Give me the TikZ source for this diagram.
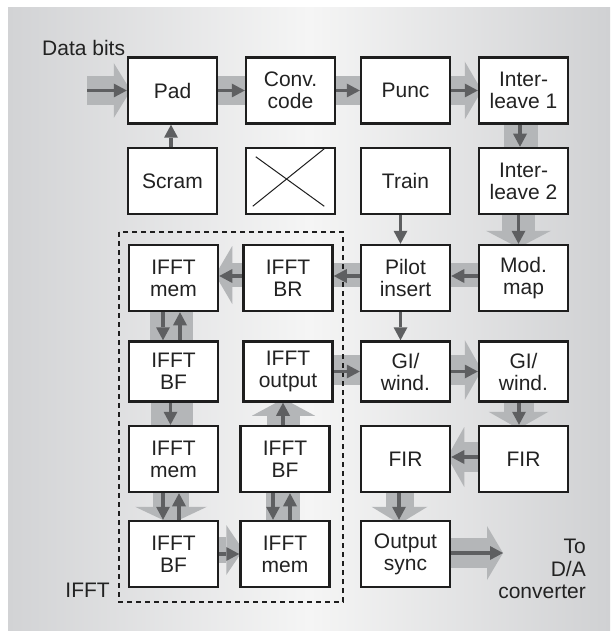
\documentclass[tikz,border=0pt]{standalone}
\usepackage{fontspec}
\setmainfont{Liberation Sans}
\usetikzlibrary{arrows.meta,calc}
\pgfdeclarelayer{back}
\pgfdeclarelayer{bg}
\pgfsetlayers{back,bg,main}
\definecolor{bandc}{HTML}{B4B6B8}
\definecolor{arrc}{HTML}{5E5F61}
\definecolor{boxc}{HTML}{1E1E1E}
\definecolor{txtc}{HTML}{222222}
\definecolor{panelL}{HTML}{D2D3D5}
\definecolor{panelM}{HTML}{F5F5F5}
\definecolor{panelR}{HTML}{D0D1D3}
\begin{document}
\begin{tikzpicture}[x=1pt,y=-1pt,
  box/.style={draw=boxc, line width=2.5pt, fill=white, minimum width=89pt, minimum height=66pt, inner sep=0pt, align=center, text=txtc, font=\fontsize{21}{22}\selectfont},
  lowbox/.style={box, minimum height=60pt},
  lbl/.style={text=txtc, font=\fontsize{21}{22}\selectfont, inner sep=0pt},
  band/.style={draw=bandc, line width=#1},
  flare/.style={-{Triangle[length=17pt,width=#1,line width=0pt]}},
  dk/.style={draw=arrc, line width=3.5pt, -{Triangle[length=13pt,width=14pt,line width=0pt]}},
]
\useasboundingbox (0,0) rectangle (610,631);
\begin{pgfonlayer}{back}
\fill[white] (0,0) rectangle (610,631);
\shade[left color=panelL, right color=panelR, middle color=panelM] (8,8) rectangle (610,631);
\end{pgfonlayer}

% boxes
\node[box] (pad) at (172.5,90.5) {Pad};
\node[box] (conv) at (290.5,90.5) {Conv.\\code};
\node[box] (punc) at (405.5,90.5) {Punc};
\node[box] (il1) at (523.5,90.5) {Inter-\\leave 1};
\node[box] (scram) at (172.5,181) {Scram};
\node[box] (blank) at (290.5,181) {};
\node[box] (train) at (405.5,181) {Train};
\node[box] (il2) at (523.5,181) {Inter-\\leave 2};
\node[box] (mem3) at (173.5,278) {IFFT\\mem};
\node[box] (br) at (288,278) {IFFT\\BR};
\node[box] (pilot) at (405.5,278) {Pilot\\insert};
\node[box] (mod) at (523.5,278) {Mod.\\map};
\node[lowbox] (bf4) at (173.5,371.5) {IFFT\\BF};
\node[lowbox] (outp) at (288,371.5) {IFFT\\output};
\node[lowbox] (gi) at (405.5,371.5) {GI/\\wind.};
\node[lowbox] (gir) at (523.5,371.5) {GI/\\wind.};
\node[box] (mem5) at (173.5,459) {IFFT\\mem};
\node[box] (bf5) at (285,459) {IFFT\\BF};
\node[box] (fir) at (405.5,459) {FIR};
\node[box] (firr) at (523.5,459) {FIR};
\node[box] (bf6) at (173.5,554) {IFFT\\BF};
\node[box] (mem6) at (285,554) {IFFT\\mem};
\node[box] (osync) at (405.5,554) {Output\\sync};

\coordinate (din) at (87,90.5);
\coordinate (dout) at (503,553);

% cross in the empty box
\draw[draw=boxc, line width=1pt] ($(blank.north west)+(11,10)$) -- ($(blank.south east)+(-12,-9)$);
\draw[draw=boxc, line width=1pt] ($(blank.south west)+(8,-9)$) -- ($(blank.north east)+(-12,2)$);

% labels
\node[lbl, anchor=base west] (databits) at (42,56) {Data bits};
\node[lbl, anchor=base east] (ifftlbl) at (110,597) {IFFT};
\node[lbl, anchor=base east] (to1) at (586,553) {To};
\node[lbl, anchor=base east] (to2) at (586,576) {D/A};
\node[lbl, anchor=base east] (to3) at (586,598) {converter};

% dashed IFFT frame
\draw[draw=boxc, line width=1.1pt, dash pattern=on 5pt off 4pt] (119,232) rectangle (343,602);

% light bands
\begin{pgfonlayer}{bg}
\draw[band=29pt, flare=55pt] (din) -- ($(pad.west)+(4,0)$);
\draw[band=29pt] (pad.east) -- (conv.west);
\draw[band=29pt] (conv.east) -- (punc.west);
\draw[band=29pt, flare=58pt] (punc.east) -- ($(il1.west)+(4,0)$);
\draw[band=34pt] ($(il1.south)+(-2.5,0)$) -- ($(il2.north)+(-2.5,0)$);
\draw[band=33pt, flare=65pt] ($(il2.south)+(-5,0)$) -- ($(mod.north)+(-5,4)$);
\draw[band=24pt] ($(mod.west)+(0,-3)$) -- ($(pilot.east)+(0,-3)$);
\draw[band=24pt] ($(pilot.west)+(0,-3)$) -- ($(br.east)+(0,-3)$);
\draw[band=24pt, flare=58pt] ($(br.west)+(0,-3)$) -- ($(mem3.east)+(-4,-3)$);
\draw[band=43pt] ($(mem3.south)+(-2,0)$) -- ($(bf4.north)+(-2,0)$);
\draw[band=42pt] ($(bf4.south)+(-2,0)$) -- ($(mem5.north)+(-2,0)$);
\draw[band=36pt, flare=72pt] ($(mem5.south)+(-2.5,0)$) -- ($(bf6.north)+(-2.5,4)$);
\draw[band=26pt, flare=50pt] ($(bf6.east)+(0,-4)$) -- ($(mem6.west)+(4,-4)$);
\draw[band=34pt] ($(mem6.north)+(-2,0)$) -- ($(bf5.south)+(-2,0)$);
\draw[band=33pt, flare=63pt] ($(bf5.north)+(-1.5,0)$) -- ($(outp.south)+(-4.5,-4)$);
\draw[band=30pt] ($(outp.east)+(0,-1.5)$) -- ($(gi.west)+(0,-1.5)$);
\draw[band=30pt, flare=60pt] ($(gi.east)+(0,-1.5)$) -- ($(gir.west)+(4,-1.5)$);
\draw[band=30pt, flare=60pt] ($(gir.south)+(-5,0)$) -- ($(firr.north)+(-5,4)$);
\draw[band=30pt, flare=60pt] ($(firr.west)+(0,-2)$) -- ($(fir.east)+(-4,-2)$);
\draw[band=28pt, flare=56pt] ($(fir.south)+(-6,0)$) -- ($(osync.north)+(-6,4)$);
\draw[band=30pt, -{Triangle[length=16pt,width=54pt,line width=0pt]}] ($(osync.east)+(0,-1)$) -- (dout);
\end{pgfonlayer}

% dark arrows
\draw[dk] (din) -- (pad.west);
\draw[dk] (pad.east) -- (conv.west);
\draw[dk] (conv.east) -- (punc.west);
\draw[dk] (punc.east) -- (il1.west);
\draw[dk] ($(scram.north)+(-1.5,0)$) -- ($(pad.south)+(-1.5,0)$);
\draw[dk] ($(il1.south)+(-3.5,0)$) -- ($(il2.north)+(-3.5,0)$);
\draw[dk] ($(il2.south)+(-5,0)$) -- ($(mod.north)+(-5,0)$);
\draw[dk] ($(train.south)+(-5,0)$) -- ($(pilot.north)+(-5,0)$);
\draw[dk] ($(mod.west)+(0,-2)$) -- ($(pilot.east)+(0,-2)$);
\draw[dk] ($(pilot.west)+(0,-2)$) -- ($(br.east)+(0,-2)$);
\draw[dk] ($(br.west)+(0,-2)$) -- ($(mem3.east)+(0,-2)$);
\draw[dk] ($(mem3.south)+(-10.5,0)$) -- ($(bf4.north)+(-10.5,0)$);
\draw[dk] ($(bf4.north)+(6.5,0)$) -- ($(mem3.south)+(6.5,0)$);
\draw[dk] ($(bf4.south)+(-3,0)$) -- ($(mem5.north)+(-3,0)$);
\draw[dk] ($(mem5.south)+(-10.5,0)$) -- ($(bf6.north)+(-10.5,0)$);
\draw[dk] ($(bf6.north)+(5.5,0)$) -- ($(mem5.south)+(5.5,0)$);
\draw[dk] (bf6.east) -- (mem6.west);
\draw[dk] ($(mem6.north)+(5,0)$) -- ($(bf5.south)+(5,0)$);
\draw[dk] ($(bf5.south)+(-12,0)$) -- ($(mem6.north)+(-12,0)$);
\draw[dk] ($(bf5.north)+(-2,0)$) -- ($(outp.south)+(-5,0)$);
\draw[dk] (outp.east) -- (gi.west);
\draw[dk] ($(pilot.south)+(-5,0)$) -- ($(gi.north)+(-5,0)$);
\draw[dk] (gi.east) -- (gir.west);
\draw[dk] ($(gir.south)+(-4.5,0)$) -- ($(firr.north)+(-4.5,0)$);
\draw[dk] ($(firr.west)+(0,-2)$) -- ($(fir.east)+(0,-2)$);
\draw[dk] ($(fir.south)+(-6.5,0)$) -- ($(osync.north)+(-6.5,0)$);
\draw[dk] ($(osync.east)+(0,-1)$) -- (dout);
\end{tikzpicture}
\end{document}
